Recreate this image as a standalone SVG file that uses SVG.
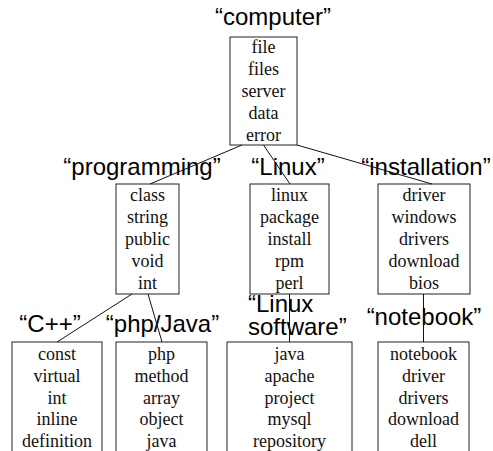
<svg xmlns="http://www.w3.org/2000/svg" width="493" height="451" viewBox="0 0 493 451">
<style>
.box{fill:#fff;stroke:#222;stroke-width:1}
.w{font-family:"Liberation Serif","Times New Roman",serif;font-size:18px;fill:#111;text-anchor:middle}
.lbl{font-family:"Liberation Sans",Arial,sans-serif;font-size:24px;fill:#000;text-anchor:middle}
.lbs{font-family:"Liberation Sans",Arial,sans-serif;font-size:24px;fill:#000}
.c{stroke:#111;stroke-width:1;fill:none}
</style>
<rect width="493" height="451" fill="#fff"/>
<g id="computer">
<text class="lbl" x="273" y="25">“computer”</text>
<rect class="box" x="230" y="37" width="67" height="108"/>
<text class="w" x="263.5" y="53">file</text>
<text class="w" x="263.5" y="75">files</text>
<text class="w" x="263.5" y="97">server</text>
<text class="w" x="263.5" y="119">data</text>
<text class="w" x="263.5" y="141">error</text>
</g>
<g id="programming">
<text class="lbl" x="142" y="175">“programming”</text>
<rect class="box" x="116" y="184" width="63" height="110"/>
<text class="w" x="147.5" y="201">class</text>
<text class="w" x="147.5" y="223">string</text>
<text class="w" x="147.5" y="245">public</text>
<text class="w" x="147.5" y="267">void</text>
<text class="w" x="147.5" y="289">int</text>
</g>
<g id="linux">
<text class="lbl" x="288" y="175">“Linux”</text>
<rect class="box" x="250" y="184" width="79" height="110"/>
<text class="w" x="289.5" y="201">linux</text>
<text class="w" x="289.5" y="223">package</text>
<text class="w" x="289.5" y="245">install</text>
<text class="w" x="289.5" y="267">rpm</text>
<text class="w" x="289.5" y="289">perl</text>
</g>
<g id="installation">
<text class="lbl" x="426" y="175">“installation”</text>
<rect class="box" x="378" y="184" width="92" height="110"/>
<text class="w" x="424" y="201">driver</text>
<text class="w" x="424" y="223">windows</text>
<text class="w" x="424" y="245">drivers</text>
<text class="w" x="424" y="267">download</text>
<text class="w" x="424" y="289">bios</text>
</g>
<g id="cpp">
<text class="lbl" x="50" y="332">“C++”</text>
<rect class="box" x="12" y="342" width="90" height="115"/>
<text class="w" x="57" y="360">const</text>
<text class="w" x="57" y="382">virtual</text>
<text class="w" x="57" y="404">int</text>
<text class="w" x="57" y="425">inline</text>
<text class="w" x="57" y="447">definition</text>
</g>
<g id="phpjava">
<text class="lbl" x="162.5" y="332">“php/Java”</text>
<rect class="box" x="116" y="342" width="91" height="115"/>
<text class="w" x="161.5" y="360">php</text>
<text class="w" x="161.5" y="382">method</text>
<text class="w" x="161.5" y="404">array</text>
<text class="w" x="161.5" y="425">object</text>
<text class="w" x="161.5" y="447">java</text>
</g>
<g id="linuxsoftware">
<text class="lbs" x="248" y="312">“Linux</text>
<text class="lbs" x="248" y="335">software”</text>
<rect class="box" x="227" y="342" width="125" height="115"/>
<text class="w" x="289.5" y="360">java</text>
<text class="w" x="289.5" y="382">apache</text>
<text class="w" x="289.5" y="404">project</text>
<text class="w" x="289.5" y="425">mysql</text>
<text class="w" x="289.5" y="447">repository</text>
</g>
<g id="notebook">
<text class="lbl" x="424" y="325">“notebook”</text>
<rect class="box" x="378" y="342" width="91" height="115"/>
<text class="w" x="423.5" y="360">notebook</text>
<text class="w" x="423.5" y="382">driver</text>
<text class="w" x="423.5" y="404">drivers</text>
<text class="w" x="423.5" y="425">download</text>
<text class="w" x="423.5" y="447">dell</text>
</g>
<g id="connectors">
<line class="c" x1="242" y1="145" x2="150" y2="184"/>
<line class="c" x1="263.5" y1="145" x2="290" y2="184"/>
<line class="c" x1="297" y1="145" x2="432" y2="184"/>
<line class="c" x1="132" y1="294" x2="57" y2="342"/>
<line class="c" x1="148" y1="294" x2="162" y2="342"/>
<line class="c" x1="289.5" y1="294" x2="289.5" y2="342"/>
<line class="c" x1="423.5" y1="294" x2="423.5" y2="342"/>
</g>
</svg>
